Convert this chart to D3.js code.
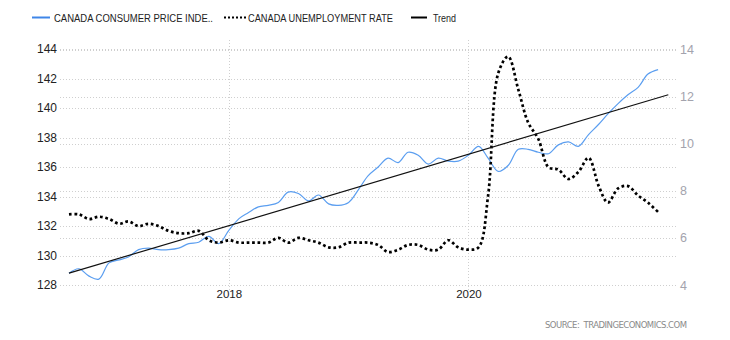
<!DOCTYPE html>
<html>
<head>
<meta charset="utf-8">
<script src="https://cdn.jsdelivr.net/npm/d3@7"></script>
<style>
  html, body { margin: 0; padding: 0; background: #fff; }
  svg { display: block; font-family: "Liberation Sans", Arial, sans-serif; }
</style>
</head>
<body>
<svg id="chart" width="730" height="340"></svg>
<script>
// ---------- DATA ----------
const months = [
  "2016-09","2016-10","2016-11","2016-12",
  "2017-01","2017-02","2017-03","2017-04","2017-05","2017-06","2017-07","2017-08","2017-09","2017-10","2017-11","2017-12",
  "2018-01","2018-02","2018-03","2018-04","2018-05","2018-06","2018-07","2018-08","2018-09","2018-10","2018-11","2018-12",
  "2019-01","2019-02","2019-03","2019-04","2019-05","2019-06","2019-07","2019-08","2019-09","2019-10","2019-11","2019-12",
  "2020-01","2020-02","2020-03","2020-04","2020-05","2020-06","2020-07","2020-08","2020-09","2020-10","2020-11","2020-12",
  "2021-01","2021-02","2021-03","2021-04","2021-05","2021-06","2021-07","2021-08"
];
const cpiValues = [
  128.8,129.1,128.6,128.4,
  129.5,129.7,129.9,130.4,130.5,130.4,130.4,130.5,130.8,130.9,131.3,130.8,
  131.7,132.5,132.9,133.3,133.4,133.6,134.3,134.2,133.7,134.1,133.5,133.4,
  133.6,134.5,135.4,136.0,136.6,136.3,137.0,136.8,136.2,136.6,136.4,136.4,
  136.8,137.4,136.6,135.7,136.1,137.2,137.2,137.0,136.9,137.5,137.7,137.4,
  138.2,138.9,139.6,140.3,140.9,141.4,142.3,142.6
];
const unemploymentValues = [
  7.0,7.0,6.8,6.9,
  6.8,6.6,6.7,6.5,6.6,6.5,6.3,6.2,6.2,6.3,5.9,5.8,
  5.9,5.8,5.8,5.8,5.8,6.0,5.8,6.0,5.9,5.8,5.6,5.6,
  5.8,5.8,5.8,5.7,5.4,5.5,5.7,5.7,5.5,5.5,5.9,5.6,
  5.5,5.6,7.8,13.0,13.7,12.3,10.9,10.2,9.0,8.9,8.5,8.8,
  9.4,8.2,7.5,8.1,8.2,7.8,7.5,7.1
];
const trendMonths = ["2016-09","2021-09"];
const trendValues = [128.8, 140.9];
const leftTicks = [128,130,132,134,136,138,140,142,144];
const rightTicks = [4,6,8,10,12,14];
const xTickYears = ["2018","2020"];
const legendLabels = ["CANADA CONSUMER PRICE INDE..", "CANADA UNEMPLOYMENT RATE", "Trend"];
const sourceText = "SOURCE:  TRADINGECONOMICS.COM";

// ---------- SCALES ----------
const parse = d3.timeParse("%Y-%m");
const svg = d3.select("#chart");
const gridLeft = 60, gridRight = 677, plotTop = 40, plotBottom = 290;

const x = d3.scaleTime()
  .domain([parse("2016-09"), parse("2021-09")])
  .range([69, 668.3]);
const yL = d3.scaleLinear().domain([128, 144]).range([285, 49]);
const yR = d3.scaleLinear().domain([4, 14]).range([285, 49.5]);

// ---------- GRID ----------
const grid = svg.append("g").attr("class", "grid");
grid.selectAll("line.gl").data(leftTicks).join("line")
  .attr("x1", gridLeft).attr("x2", gridRight)
  .attr("y1", d => Math.round(yL(d)) + 0.5).attr("y2", d => Math.round(yL(d)) + 0.5)
  .attr("stroke", "#cfcfcf").attr("stroke-width", 1).attr("stroke-dasharray", "1,2");
grid.selectAll("line.gr").data(rightTicks).join("line")
  .attr("x1", gridLeft).attr("x2", gridRight)
  .attr("y1", d => Math.round(yR(d)) + 0.5).attr("y2", d => Math.round(yR(d)) + 0.5)
  .attr("stroke", "#cfcfcf").attr("stroke-width", 1).attr("stroke-dasharray", "1,2");
grid.selectAll("line.gx").data(xTickYears).join("line")
  .attr("x1", d => Math.round(x(new Date(+d, 0, 1))) + 0.5)
  .attr("x2", d => Math.round(x(new Date(+d, 0, 1))) + 0.5)
  .attr("y1", plotTop).attr("y2", plotBottom)
  .attr("stroke", "#cfcfcf").attr("stroke-width", 1).attr("stroke-dasharray", "1,2");

// ---------- AXES (labels) ----------
const leftAxis = d3.axisLeft(yL).tickValues(leftTicks).tickSize(0).tickPadding(0);
const gL = svg.append("g").attr("transform", "translate(57,0)").call(leftAxis);
gL.select(".domain").remove();
gL.selectAll("text").attr("font-size", 12).attr("fill", "#222")
  .attr("font-family", "Liberation Sans, Arial, sans-serif");

const rightAxis = d3.axisRight(yR).tickValues(rightTicks).tickSize(0).tickPadding(0);
const gR = svg.append("g").attr("transform", "translate(680,0)").call(rightAxis);
gR.select(".domain").remove();
gR.selectAll("text").attr("font-size", 12.5).attr("fill", "#a3a3ad")
  .attr("font-family", "Liberation Sans, Arial, sans-serif");

const bottomAxis = d3.axisBottom(x)
  .tickValues(xTickYears.map(y => new Date(+y, 0, 1)))
  .tickFormat(d3.timeFormat("%Y")).tickSize(0).tickPadding(0);
const gB = svg.append("g").attr("transform", "translate(0,290)").call(bottomAxis);
gB.select(".domain").remove();
gB.selectAll("text").attr("font-size", 11.5).attr("fill", "#222")
  .attr("font-family", "Liberation Sans, Arial, sans-serif");

// ---------- SERIES ----------
const cpiData = months.map((m, i) => ({ date: parse(m), v: cpiValues[i] }));
const uData = months.map((m, i) => ({ date: parse(m), v: unemploymentValues[i] }));
const trendData = trendMonths.map((m, i) => ({ date: parse(m), v: trendValues[i] }));

const curve = d3.curveCatmullRom.alpha(0.5);
svg.append("path").datum(cpiData)
  .attr("fill", "none").attr("stroke", "#5b9ef0").attr("stroke-width", 1.2)
  .attr("d", d3.line().x(d => x(d.date)).y(d => yL(d.v)).curve(curve));

svg.append("path").datum(uData)
  .attr("fill", "none").attr("stroke", "#000").attr("stroke-width", 2.7)
  .attr("stroke-dasharray", "2.7,2.7")
  .attr("d", d3.line().x(d => x(d.date)).y(d => yR(d.v)).curve(curve));

svg.append("path").datum(trendData)
  .attr("fill", "none").attr("stroke", "#111").attr("stroke-width", 1.2)
  .attr("d", d3.line().x(d => x(d.date)).y(d => yL(d.v)));

// ---------- LEGEND ----------
const leg = svg.append("g").attr("font-size", 10.5).attr("fill", "#222");
const legItems = [
  { sx1: 32, sx2: 50, tx: 54, tw: 159, stroke: "#3f86e8", w: 2, dash: null },
  { sx1: 224, sx2: 246, tx: 248, tw: 145, stroke: "#000", w: 2, dash: "2,2" },
  { sx1: 411, sx2: 427, tx: 433, tw: 23, stroke: "#000", w: 2, dash: null }
];
legItems.forEach((it, i) => {
  const l = leg.append("line").attr("x1", it.sx1).attr("x2", it.sx2)
    .attr("y1", 17.5).attr("y2", 17.5)
    .attr("stroke", it.stroke).attr("stroke-width", it.w);
  if (it.dash) l.attr("stroke-dasharray", it.dash);
  leg.append("text").attr("x", it.tx).attr("y", 21.5)
    .attr("textLength", it.tw).attr("lengthAdjust", "spacingAndGlyphs")
    .text(legendLabels[i]);
});

// ---------- SOURCE ----------
svg.append("text").attr("x", 545).attr("y", 328)
  .attr("font-size", 8.5).attr("fill", "#8a8a8a")
  .attr("font-family", "DejaVu Sans, Verdana, sans-serif")
  .attr("textLength", 142).attr("lengthAdjust", "spacing")
  .attr("xml:space", "preserve")
  .text(sourceText);
</script>
</body>
</html>
